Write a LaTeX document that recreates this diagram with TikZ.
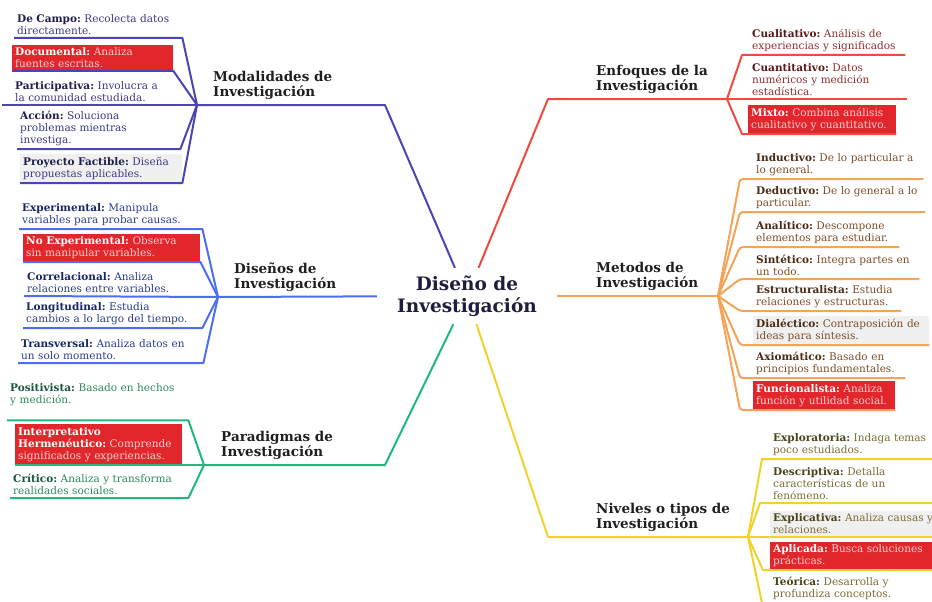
\documentclass[tikz,border=0pt]{standalone}
\usepackage{fontspec}
\setmainfont{DejaVu Serif}
\usepackage{tikz}

% colores de las ramas
\definecolor{modlin}{HTML}{4A44B5}
\definecolor{modtit}{HTML}{1F1F4F}
\definecolor{moddes}{HTML}{3A3A85}
\definecolor{dislin}{HTML}{4D6EF2}
\definecolor{distit}{HTML}{172766}
\definecolor{disdes}{HTML}{2B3D8F}
\definecolor{parlin}{HTML}{1FB87F}
\definecolor{partit}{HTML}{17563A}
\definecolor{pardes}{HTML}{2C8A5A}
\definecolor{enflin}{HTML}{EE4B3F}
\definecolor{enftit}{HTML}{5A1818}
\definecolor{enfdes}{HTML}{8E3030}
\definecolor{metlin}{HTML}{F3A458}
\definecolor{mettit}{HTML}{4A2A12}
\definecolor{metdes}{HTML}{7C4E28}
\definecolor{nivlin}{HTML}{F3D12B}
\definecolor{nivtit}{HTML}{4B4218}
\definecolor{nivdes}{HTML}{7B6B35}
\definecolor{rojo}{HTML}{E1262C}
\definecolor{rosa}{HTML}{F9D0D0}
\definecolor{gris}{HTML}{F0F0F0}
\definecolor{centrotxt}{HTML}{1D1D3D}

\newcommand{\kt}[2]{\textcolor{#1}{\bfseries #2}}
\frenchspacing

\tikzset{
  hijo/.style={anchor=south west, align=left, inner xsep=3pt, inner ysep=3pt,
    font=\fontsize{10.5}{12}\selectfont},
  caja roja/.style={hijo, fill=rojo, text=rosa},
  caja gris/.style={hijo, fill=gris},
  rama/.style={anchor=south west, align=left, inner sep=3pt, text=black!88,
    font=\fontsize{13.5}{15.5}\selectfont\bfseries},
  linea/.style={line width=2pt, line join=round},
}

\begin{document}
\begin{tikzpicture}[x=1pt, y=-1pt]

        \useasboundingbox (0,0) rectangle (932,602);
        \fill[white] (0,0) rectangle (932,602);
        \clip (0,0) rectangle (932,602);

        % centro
        \node[align=center, font=\fontsize{18.5}{22}\selectfont\bfseries, text=centrotxt,
          minimum width=180pt, minimum height=56pt, inner sep=0pt] (centro) at (467,296)
          {Diseño de\\Investigación};

        % puntos de quiebre
        \coordinate (m0) at (385,105);
        \coordinate (mhub) at (197,105);
        \coordinate (dhub) at (218,297);
        \coordinate (p0) at (385,465);
        \coordinate (phub) at (204,465);
        \coordinate (e0) at (548,99);
        \coordinate (ehub) at (727,99);
        \coordinate (thub) at (718,296);
        \coordinate (n0) at (548,537);
        \coordinate (nhub) at (748,537);

        % ramas
        \node[rama] (modlab) at (210,103) {Modalidades de\\Investigación};
        \node[rama] (dislab) at (231,295) {Diseños de\\Investigación};
        \node[rama] (parlab) at (218,463) {Paradigmas de\\Investigación};
        \node[rama] (enflab) at (593,97) {Enfoques de la\\Investigación};
        \node[rama] (metlab) at (593,294) {Metodos de\\Investigación};
        \node[rama] (nivlab) at (593,535) {Niveles o tipos de\\Investigación};

        % modalidades
        \node[hijo, text=moddes, text width=162pt] (decampo) at (14,38) {\kt{modtit}{De Campo:} Recolecta datos\\directamente.};
        \node[caja roja, text width=155pt] (document) at (12,71) {\kt{white}{Documental:} Analiza\\fuentes escritas.};
        \node[hijo, text=moddes, text width=170pt] (partic) at (12,105) {\kt{modtit}{Participativa:} Involucra a\\la comunidad estudiada.};
        \node[hijo, text=moddes, text width=157pt] (accion) at (17,149) {\kt{modtit}{Acción:} Soluciona\\problemas mientras\\investiga.};
        \node[caja gris, text=moddes, text width=156pt] (proyecto) at (20,183) {\kt{modtit}{Proyecto Factible:} Diseña\\propuestas aplicables.};

        \draw[linea, modlin] (centro) -- (m0) -- (mhub);
        \draw[linea, modlin] (decampo.south west) -- (decampo.south east) -- (mhub);
        \draw[linea, modlin] (document.south west) -- (document.south east) -- (mhub);
        \draw[linea, modlin] ([xshift=-10pt]partic.south west) -- (mhub);
        \draw[linea, modlin] (accion.south west) -- (accion.south east) -- (mhub);
        \draw[linea, modlin] (proyecto.south west) -- (proyecto.south east) -- (mhub);

        % disenos
        \node[hijo, text=disdes, text width=177pt] (experim) at (19,229) {\kt{distit}{Experimental:} Manipula\\variables para probar causas.};
        \node[caja roja, text width=171pt] (noexp) at (23,262) {\kt{white}{No Experimental:} Observa\\sin manipular variables.};
        \node[hijo, text=disdes, text width=180pt] (correl) at (24,296) {\kt{distit}{Correlacional:} Analiza\\relaciones entre variables.};
        \node[hijo, text=disdes, text width=173pt] (longit) at (23,328) {\kt{distit}{Longitudinal:} Estudia\\cambios a lo largo del tiempo.};
        \node[hijo, text=disdes, text width=179pt] (transv) at (18,363) {\kt{distit}{Transversal:} Analiza datos en\\un solo momento.};

        \draw[linea, dislin] (centro) -- (dhub);
        \draw[linea, dislin] (experim.south west) -- (experim.south east) -- (dhub);
        \draw[linea, dislin] (noexp.south west) -- (noexp.south east) -- (dhub);
        \draw[linea, dislin] (correl.south west) -- (dhub);
        \draw[linea, dislin] (longit.south west) -- (longit.south east) -- (dhub);
        \draw[linea, dislin] (transv.south west) -- (transv.south east) -- (dhub);

        % paradigmas
        \node[hijo, text=pardes, text width=180pt] (positiv) at (7,409) {\kt{partit}{Positivista:} Basado en hechos\\y medición.};
        \node[caja roja, text width=161pt] (interp) at (15,465) {\kt{white}{Interpretativo}\\\kt{white}{Hermenéutico:} Comprende\\significados y experiencias.};
        \node[hijo, text=pardes, text width=172pt] (critico) at (10,498) {\kt{partit}{Crítico:} Analiza y transforma\\realidades sociales.};

        \draw[linea, parlin] (centro) -- (p0) -- (phub);
        \draw[linea, parlin] ([xshift=-8pt, yshift=4pt]interp.north west) -- ([xshift=6pt, yshift=4pt]interp.north east) -- (phub);
        \draw[linea, parlin] (interp.south west) -- (phub);
        \draw[linea, parlin] (critico.south west) -- (critico.south east) -- (phub);

        % enfoques
        \node[hijo, text=enfdes, text width=150pt] (cualit) at (749,55) {\kt{enftit}{Cualitativo:} Análisis de\\experiencias y significados};
        \node[hijo, text=enfdes, text width=152pt] (cuantit) at (749,99) {\kt{enftit}{Cuantitativo:} Datos\\numéricos y medición\\estadística.};
        \node[caja roja, text width=142pt] (mixto) at (748,134) {\kt{white}{Mixto:} Combina análisis\\cualitativo y cuantitativo.};

        \draw[linea, enflin] (centro) -- (e0) -- (ehub);
        \draw[linea, enflin] (ehub) -- ([xshift=-7pt]cualit.south west) -- (cualit.south east);
        \draw[linea, enflin] (ehub) -- (cuantit.south east);
        \draw[linea, enflin] (ehub) -- ([xshift=-6pt]mixto.south west) -- (mixto.south east);

        % metodos
        \node[hijo, text=metdes, text width=164pt] (induct) at (753,179) {\kt{mettit}{Inductivo:} De lo particular a\\lo general.};
        \node[hijo, text=metdes, text width=166pt] (deduct) at (753,212) {\kt{mettit}{Deductivo:} De lo general a lo\\particular.};
        \node[hijo, text=metdes, text width=140pt] (analit) at (753,247) {\kt{mettit}{Analítico:} Descompone\\elementos para estudiar.};
        \node[hijo, text=metdes, text width=160pt] (sintet) at (753,279) {\kt{mettit}{Sintético:} Integra partes en\\un todo.};
        \node[hijo, text=metdes, text width=142pt] (estruct) at (753,311) {\kt{mettit}{Estructuralista:} Estudia\\relaciones y estructuras.};
        \node[caja gris, text=metdes, text width=170pt] (dialec) at (753,345) {\kt{mettit}{Dialéctico:} Contraposición de\\ideas para síntesis.};
        \node[hijo, text=metdes, text width=146pt] (axiom) at (753,378) {\kt{mettit}{Axiomático:} Basado en\\principios fundamentales.};
        \node[caja roja, text width=136pt] (funcion) at (753,410) {\kt{white}{Funcionalista:} Analiza\\función y utilidad social.};

        \draw[linea, metlin] (centro) -- (thub);
        \draw[linea, metlin, rounded corners=3pt] (thub) -- ([xshift=-13pt]induct.south west) -- (induct.south east);
        \draw[linea, metlin, rounded corners=3pt] (thub) -- ([xshift=-13pt]deduct.south west) -- (deduct.south east);
        \draw[linea, metlin, rounded corners=3pt] (thub) -- ([xshift=-13pt]analit.south west) -- (analit.south east);
        \draw[linea, metlin, rounded corners=3pt] (thub) -- ([xshift=-13pt]sintet.south west) -- (sintet.south east);
        \draw[linea, metlin, rounded corners=3pt] (thub) -- ([xshift=-13pt]estruct.south west) -- (estruct.south east);
        \draw[linea, metlin, rounded corners=3pt] (thub) -- ([xshift=-13pt]dialec.south west) -- (dialec.south east);
        \draw[linea, metlin, rounded corners=3pt] (thub) -- ([xshift=-13pt]axiom.south west) -- (axiom.south east);
        \draw[linea, metlin, rounded corners=3pt] (thub) -- ([xshift=-13pt]funcion.south west) -- (funcion.south east);

        % niveles
        \node[hijo, text=nivdes, text width=170pt] (explor) at (770,459) {\kt{nivtit}{Exploratoria:} Indaga temas\\poco estudiados.};
        \node[hijo, text=nivdes, text width=170pt] (descr) at (770,503) {\kt{nivtit}{Descriptiva:} Detalla\\características de un\\fenómeno.};
        \node[caja gris, text=nivdes, text width=170pt] (explic) at (770,537) {\kt{nivtit}{Explicativa:} Analiza causas y\\relaciones.};
        \node[caja roja, text width=170pt] (aplic) at (770,570) {\kt{white}{Aplicada:} Busca soluciones\\prácticas.};
        \node[hijo, text=nivdes, text width=170pt] (teor) at (770,603) {\kt{nivtit}{Teórica:} Desarrolla y\\profundiza conceptos.};

        \draw[linea, nivlin] (centro) -- (n0) -- (nhub);
        \draw[linea, nivlin] (nhub) -- ([xshift=-8pt]explor.south west) -- (explor.south east);
        \draw[linea, nivlin] (nhub) -- ([xshift=-10pt]descr.south west) -- (descr.south east);
        \draw[linea, nivlin] (nhub) -- (explic.south east);
        \draw[linea, nivlin] (nhub) -- ([xshift=-7pt]aplic.south west) -- (aplic.south east);
        \draw[linea, nivlin] (nhub) -- ([xshift=-8pt]teor.south west);

\end{tikzpicture}
\end{document}
